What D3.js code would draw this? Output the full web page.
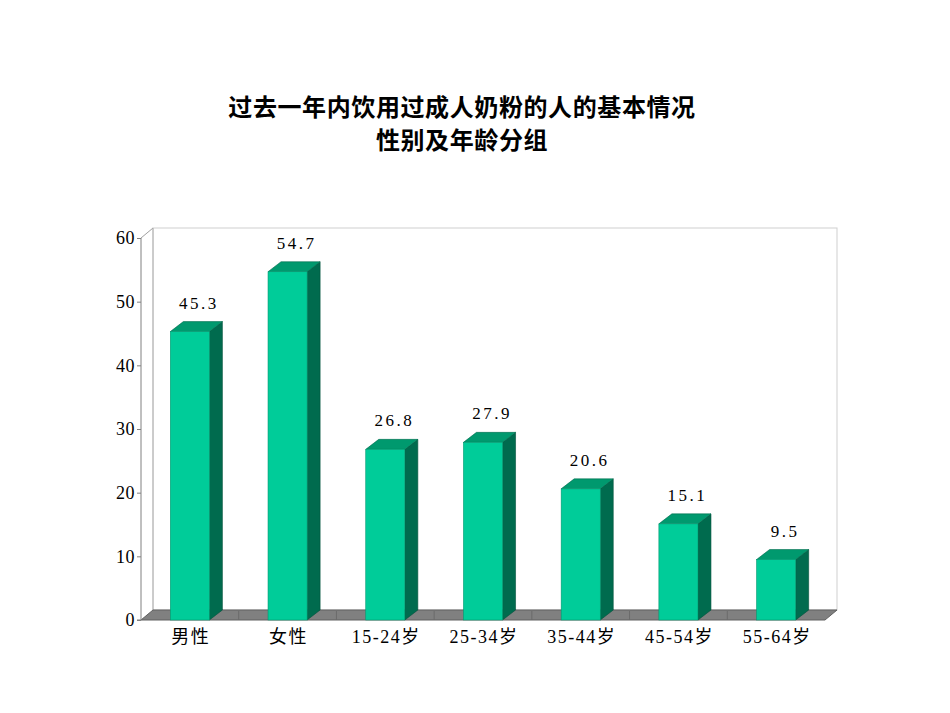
<!DOCTYPE html>
<html><head><meta charset="utf-8">
<script src="https://cdn.jsdelivr.net/npm/d3@7"></script>
<style>body{margin:0;background:#fff}svg{display:block}</style>
</head><body>
<script>
const categories = ["男性","女性","15-24岁","25-34岁","35-44岁","45-54岁","55-64岁"];
const values = [45.3, 54.7, 26.8, 27.9, 20.6, 15.1, 9.5];
const yTicks = [0,10,20,30,40,50,60];
const titleLines = ["过去一年内饮用过成人奶粉的人的基本情况","性别及年龄分组"];

(function(){
const W=950,H=713;
const svg=d3.select("body").append("svg").attr("width",W).attr("height",H);
const pLeft=141,pRight=825,pBottom=620,pTop=238;
const wdx=12,wdy=10; // wall depth
const bdx=13,bdy=10; // bar depth
const x=d3.scaleBand().domain(categories).range([pLeft,pRight]).paddingInner(0.6).paddingOuter(0.3);
const y=d3.scaleLinear().domain([0,60]).range([pBottom,pTop]);

// title
svg.append("g").selectAll("text").data(titleLines).join("text")
 .attr("x",462).attr("y",(d,i)=>116+i*33).attr("text-anchor","middle")
 .attr("font-family","'Noto Sans CJK SC'").attr("font-weight","bold").attr("font-size",24).attr("letter-spacing",0.6)
 .attr("fill","#000").text(d=>d);

// back wall
const wallTop=y(60)-wdy;
svg.append("rect").attr("x",pLeft+wdx).attr("y",wallTop).attr("width",pRight-pLeft).attr("height",(pBottom-wdy)-wallTop)
 .attr("fill","#fff").attr("stroke","#cfcfcf").attr("stroke-width",1);
svg.append("path").attr("d",`M${pLeft},${y(60)}L${pLeft+wdx},${wallTop}`).attr("stroke","#a0a0a0").attr("fill","none");
svg.append("line").attr("x1",pLeft+wdx).attr("x2",pLeft+wdx).attr("y1",wallTop).attr("y2",pBottom-wdy).attr("stroke","#b0b0b0");

// floor
svg.append("path").attr("d",`M${pLeft},${pBottom}L${pRight},${pBottom}L${pRight+wdx},${pBottom-wdy}L${pLeft+wdx},${pBottom-wdy}Z`)
 .attr("fill","#808080").attr("stroke","#606060").attr("stroke-width",1);
const step=x.step();
svg.append("g").selectAll("line").data(categories.slice(1)).join("line")
 .attr("x1",d=>x(d)-x.paddingInner()*step/2).attr("x2",d=>x(d)-x.paddingInner()*step/2)
 .attr("y1",pBottom-wdy+1).attr("y2",pBottom).attr("stroke","#6a6a6a");

// y axis
const yAxis=d3.axisLeft(y).tickValues(yTicks).tickSize(4).tickPadding(2);
const ga=svg.append("g").attr("transform",`translate(${pLeft},0)`).call(yAxis);
ga.select(".domain").attr("stroke","#808080").attr("d",`M-4,${pBottom}H0V${pTop}`);
ga.selectAll(".tick line").attr("stroke","#808080");
ga.selectAll(".tick text").attr("font-family","'Liberation Serif'").attr("font-size",18).attr("letter-spacing",0.5).attr("fill","#000");

// bars
const g=svg.append("g");
categories.forEach((c,i)=>{
  const v=values[i], x0=x(c), x1=x0+x.bandwidth(), yv=y(v);
  g.append("path").attr("d",`M${x1},${yv}L${x1+bdx},${yv-bdy}L${x1+bdx},${pBottom-bdy}L${x1},${pBottom}Z`)
   .attr("fill","#006B4E").attr("stroke","#00513a").attr("stroke-width",0.6);
  g.append("path").attr("d",`M${x0},${yv}L${x0+bdx},${yv-bdy}L${x1+bdx},${yv-bdy}L${x1},${yv}Z`)
   .attr("fill","#00996E").attr("stroke","#006b4e").attr("stroke-width",0.6);
  g.append("rect").attr("x",x0).attr("y",yv).attr("width",x.bandwidth()).attr("height",pBottom-yv)
   .attr("fill","#00CC99").attr("stroke","#009970").attr("stroke-width",0.6);
  g.append("text").attr("x",x0+x.bandwidth()/2+9).attr("y",yv-bdy-13).attr("text-anchor","middle")
   .attr("font-family","'Liberation Serif'").attr("font-size",17).attr("letter-spacing",2.5).attr("fill","#000")
   .text(v.toFixed(1));
});

// category labels
svg.append("g").selectAll("text").data(categories).join("text")
 .attr("x",d=>x(d)+x.bandwidth()/2+1).attr("y",643).attr("text-anchor","middle")
 .attr("font-family","'Liberation Serif','Noto Sans CJK SC'").attr("font-size",18).attr("letter-spacing",1.5).attr("fill","#000")
 .text(d=>d);
})();
</script>
</body></html>
